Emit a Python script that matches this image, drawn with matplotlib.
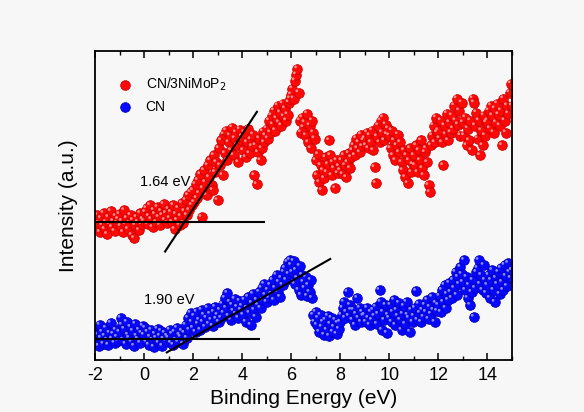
import numpy as np
import matplotlib
matplotlib.use("Agg")
import matplotlib.pyplot as plt
from matplotlib.transforms import offset_copy

plt.rcParams['font.family'] = ['Liberation Sans', 'DejaVu Sans']
plt.rcParams['axes.unicode_minus'] = False

# ---- data (binding energy grid, 0.05 eV step from -2 to 15 eV) ----
e_start, e_step = -2.0, 0.05

red_vals = [
    140, 132, 145, 137, 128, 142, 135, 147, 131, 138, 126, 143, 136, 149, 133, 139, 129, 144, 137, 141,
    146, 134, 139, 128, 150, 136, 142, 131, 137, 145, 125, 140, 122, 135, 143, 138, 130, 147, 136, 141,
    139, 148, 152, 136, 144, 155, 141, 133, 150, 146, 138, 153, 143, 135, 149, 145, 156, 140, 147, 137,
    151, 142, 148, 138, 155, 131, 146, 140, 152, 135, 144, 157, 137, 149, 160, 145, 165, 150, 168, 155,
    170, 158, 176, 162, 180, 167, 186, 143, 172, 190, 178, 165, 195, 183, 200, 175, 170, 205, 188, 198,
    160, 212, 195, 220, 185, 226, 207, 230, 200, 218, 225, 210, 233, 205, 222, 228, 215, 198, 231, 220,
    224, 210, 228, 203, 218, 232, 207, 221, 214, 226, 185, 215, 176, 208, 222, 200, 212, 229, 218, 225,
    232, 222, 240, 228, 245, 236, 250, 230, 242, 255, 238, 248, 235, 257, 244, 252, 240, 246, 258, 262,
    266, 272, 262, 280, 286, 292, 268, 240, 228, 243, 233, 238, 225, 247, 218, 235, 212, 240, 228, 222,
    200, 185, 206, 178, 195, 170, 190, 182, 203, 188, 196, 220, 205, 185, 198, 192, 172, 200, 187, 194,
    190, 200, 186, 205, 195, 183, 198, 207, 192, 203, 210, 215, 205, 222, 212, 218, 208, 226, 214, 220,
    222, 215, 228, 212, 225, 218, 230, 210, 193, 177, 224, 235, 218, 240, 228, 243, 220, 236, 226, 232,
    225, 212, 230, 205, 220, 200, 215, 226, 208, 218, 198, 190, 210, 183, 205, 177, 200, 212, 188, 196,
    205, 195, 215, 188, 210, 200, 220, 192, 185, 208, 212, 198, 175, 168, 215, 225, 235, 218, 243, 228,
    230, 222, 240, 218, 195, 235, 226, 247, 220, 238, 228, 245, 232, 255, 240, 262, 236, 250, 225, 258,
    238, 225, 243, 215, 232, 220, 240, 210, 262, 258, 235, 248, 222, 240, 205, 230, 215, 245, 225, 238,
    240, 250, 232, 255, 245, 228, 252, 238, 257, 246, 235, 250, 215, 262, 240, 228, 255, 247, 268, 277,
    255,
]

blue_vals = [
    30, 18, 25, 14, 35, 22, 28, 16, 24, 32, 20, 15, 27, 37, 21, 26, 17, 30, 23, 19,
    28, 42, 35, 20, 31, 16, 38, 25, 22, 33, 18, 29, 14, 36, 24, 21, 30, 17, 27, 34,
    25, 32, 18, 28, 15, 23, 30, 20, 13, 26, 22, 31, 17, 24, 29, 14, 21, 27, 19, 24,
    22, 30, 17, 26, 15, 28, 20, 32, 18, 25, 23, 29, 16, 27, 35, 22, 42, 30, 47, 38,
    32, 44, 28, 48, 36, 40, 30, 50, 38, 45, 33, 42, 52, 36, 46, 40, 34, 48, 53, 41,
    45, 38, 50, 42, 56, 47, 62, 52, 67, 44, 58, 40, 55, 49, 61, 46, 53, 42, 59, 50,
    54, 45, 60, 38, 52, 63, 47, 35, 57, 66, 50, 43, 60, 55, 68, 52, 72, 60, 76, 65,
    58, 70, 62, 75, 66, 80, 60, 72, 85, 68, 78, 63, 82, 75, 88, 92, 80, 98, 86, 100,
    95, 88, 99, 76, 90, 82, 70, 94, 65, 85, 78, 72, 83, 64, 75, 68, 80, 62, 45, 38,
    48, 35, 42, 28, 45, 33, 38, 25, 40, 30, 44, 24, 36, 42, 28, 33, 40, 26, 37, 31,
    38, 45, 52, 58, 42, 48, 68, 44, 55, 50, 40, 50, 35, 46, 62, 42, 52, 38, 48, 44,
    45, 38, 52, 42, 35, 48, 40, 50, 44, 53, 36, 46, 70, 58, 30, 48, 40, 55, 27, 45,
    42, 55, 38, 48, 60, 35, 50, 44, 57, 40, 30, 46, 54, 36, 58, 45, 42, 28, 50, 38,
    44, 52, 69, 40, 56, 47, 38, 50, 43, 55, 48, 60, 41, 53, 46, 63, 50, 38, 57, 49,
    55, 64, 48, 70, 58, 75, 52, 66, 60, 77, 68, 62, 80, 72, 88, 65, 83, 76, 93, 86,
    78, 100, 70, 83, 62, 75, 55, 68, 80, 43, 72, 88, 92, 100, 76, 85, 70, 95, 80, 67,
    75, 85, 62, 80, 90, 70, 58, 82, 76, 88, 66, 92, 78, 70, 95, 84, 74, 97, 88, 82,
    90,
]

# linear extrapolations: onset (eV), baseline, slope, fitted range
red_onset, red_base, red_slope, red_fit_range = 1.64, 138.0, 37.4, (0.857, 4.6)
red_base_range = (-2.0, 4.87)
blue_onset, blue_base, blue_slope, blue_fit_range = 1.90, 21.3, 14.05, (0.925, 7.59)
blue_base_range = (-2.0, 4.67)

labels = ['CN/3NiMoP$_2$', 'CN']
x_ticks = [-2, 0, 2, 4, 6, 8, 10, 12, 14]

# ---- figure ----
bg = '#f7f7f7'
fig = plt.figure(figsize=(5.84, 4.12), dpi=100, facecolor=bg)
ax = fig.add_axes([95/584, 1 - 360/412, (512-95)/584, (360-50.7)/412])
ax.set_facecolor(bg)

energy_red = e_start + e_step * np.arange(len(red_vals))
energy_blue = e_start + e_step * np.arange(len(blue_vals))

ms = 48
hl = offset_copy(ax.transData, fig=fig, x=-1.3, y=1.3, units='points')
for en, vals, fc, ec, hc, lab in [
        (energy_red, red_vals, '#ff0808', '#cc0000', '#ff8a8a', labels[0]),
        (energy_blue, blue_vals, '#0808ff', '#0000bb', '#8a8aff', labels[1])]:
    ax.scatter(en, vals, s=ms, c=fc, edgecolors=ec, linewidths=0.6,
               label=lab, zorder=2)
    ax.scatter(en, vals, s=4, c=hc, edgecolors='none', transform=hl, zorder=2.1)

def fit_line(onset, base, slope, rng):
    xs = np.array(rng)
    return xs, base + slope * (xs - onset)

for onset, base, slope, frng, brng in [
        (red_onset, red_base, red_slope, red_fit_range, red_base_range),
        (blue_onset, blue_base, blue_slope, blue_fit_range, blue_base_range)]:
    xs, ys = fit_line(onset, base, slope, frng)
    ax.plot(xs, ys, color='black', lw=1.5, zorder=3)
    ax.plot(brng, [base, base], color='black', lw=1.5, zorder=3)

ax.text(0.86, 178, f'{red_onset:.2f} eV', fontsize=10.5, ha='center', va='center')
ax.text(1.02, 60.5, f'{blue_onset:.2f} eV', fontsize=10.5, ha='center', va='center')

ax.set_xlim(-2, 15)
ax.set_ylim(0, 310)
ax.set_xticks(x_ticks)
ax.set_xticks(np.arange(-2, 16, 1), minor=True)
ax.set_yticks([])
ax.tick_params(axis='x', which='both', direction='in', top=True, labelsize=13, pad=5)
ax.tick_params(axis='x', which='major', length=5, width=1.1)
ax.tick_params(axis='x', which='minor', length=3, width=1.0)
for sp in ax.spines.values():
    sp.set_linewidth(1.3)

ax.set_xlabel('Binding Energy (eV)', fontsize=15, labelpad=4)
ax.set_ylabel('Intensity (a.u.)', fontsize=15, labelpad=12)

leg = ax.legend(loc='upper left', bbox_to_anchor=(0.055, 0.92), frameon=False,
                fontsize=10, handlelength=1.0, handletextpad=1.0, borderpad=0,
                borderaxespad=0, labelspacing=0.5, scatterpoints=1)

fig.savefig('out.png', dpi=100, facecolor=bg)
